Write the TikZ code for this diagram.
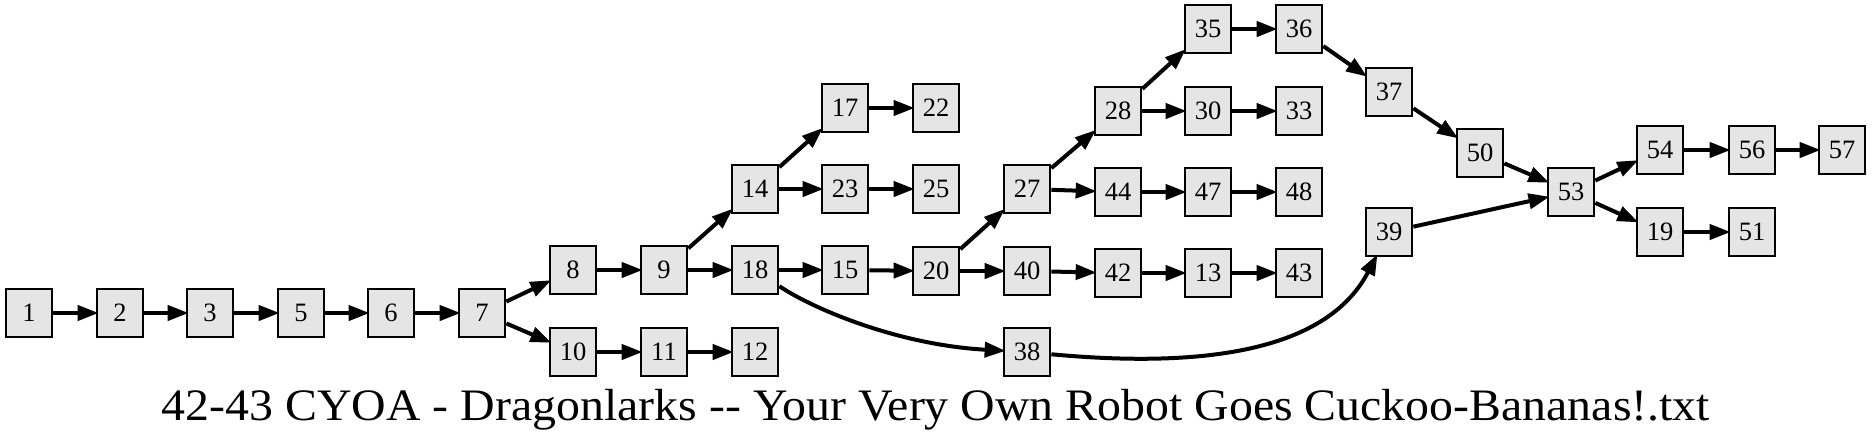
\documentclass[tikz,border=0pt]{standalone}
\usepackage{fontspec}
\setmainfont{Liberation Serif}
\usetikzlibrary{arrows.meta}
\definecolor{ndgray}{HTML}{E5E5E5}
\begin{document}
\begin{tikzpicture}[x=1pt,y=-1pt,
  nd/.style={draw=black, fill=ndgray, line width=2.2pt, minimum width=46.5pt, minimum height=47.5pt, inner sep=0pt, font=\fontsize{26.5}{30}\selectfont},
  ed/.style={line width=4pt, -{Triangle[length=21pt,width=15pt]}, shorten >=-3pt}]
\useasboundingbox (0,0) rectangle (1872,440);
% nodes
\node[nd] (n1) at (29,313) {1};
\node[nd] (n2) at (120,313) {2};
\node[nd] (n3) at (210,313) {3};
\node[nd] (n5) at (301,313) {5};
\node[nd] (n6) at (391,313) {6};
\node[nd] (n7) at (482,313) {7};
\node[nd] (n8) at (573,270) {8};
\node[nd] (n10) at (573,352) {10};
\node[nd] (n9) at (664,270) {9};
\node[nd] (n11) at (664,352) {11};
\node[nd] (n14) at (755,189) {14};
\node[nd] (n18) at (755,270) {18};
\node[nd] (n12) at (755,352) {12};
\node[nd] (n17) at (845,108) {17};
\node[nd] (n23) at (845,189) {23};
\node[nd] (n15) at (845,270) {15};
\node[nd] (n22) at (936,108) {22};
\node[nd] (n25) at (936,189) {25};
\node[nd] (n20) at (936,271) {20};
\node[nd] (n27) at (1027,189) {27};
\node[nd] (n40) at (1027,271) {40};
\node[nd] (n38) at (1027,352) {38};
\node[nd] (n28) at (1118,111) {28};
\node[nd] (n44) at (1118,192) {44};
\node[nd] (n42) at (1118,273) {42};
\node[nd] (n35) at (1208,29) {35};
\node[nd] (n30) at (1208,111) {30};
\node[nd] (n47) at (1208,192) {47};
\node[nd] (n13) at (1208,273) {13};
\node[nd] (n36) at (1299,29) {36};
\node[nd] (n33) at (1299,111) {33};
\node[nd] (n48) at (1299,192) {48};
\node[nd] (n43) at (1299,273) {43};
\node[nd] (n37) at (1389,92) {37};
\node[nd] (n39) at (1389,232) {39};
\node[nd] (n50) at (1480,153) {50};
\node[nd] (n53) at (1571,192) {53};
\node[nd] (n54) at (1660,150) {54};
\node[nd] (n19) at (1660,232) {19};
\node[nd] (n56) at (1752,150) {56};
\node[nd] (n51) at (1752,232) {51};
\node[nd] (n57) at (1842,150) {57};
% edges
\foreach \a/\b in {1/2,2/3,3/5,5/6,6/7,7/8,7/10,8/9,9/14,9/18,10/11,11/12,14/17,14/23,17/22,23/25,18/15,15/20,20/27,20/40,27/28,27/44,28/35,28/30,35/36,30/33,44/47,47/48,40/42,42/13,13/43,36/37,37/50,50/53,39/53,53/54,53/19,54/56,56/57,19/51}
  \draw[ed] (n\a) -- (n\b);
\draw[ed] (n18) .. controls (815,310) and (900,345) .. (n38);
\draw[ed] (n38) .. controls (1220,370) and (1330,345) .. (n39);
% title
\node[anchor=base, inner sep=0pt, font=\fontsize{45}{50}\selectfont] (title) at (936,420) {\scalebox{1.063}[1]{42-43 CYOA - Dragonlarks -\kern0pt- Your Very Own Robot Goes Cuckoo-Bananas!.txt}};
\end{tikzpicture}
\end{document}
